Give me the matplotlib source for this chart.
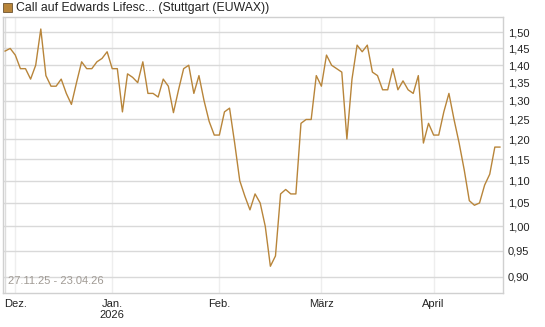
import matplotlib
matplotlib.use("Agg")
import matplotlib.pyplot as plt
from matplotlib.ticker import FixedLocator, NullLocator
from matplotlib.patches import Rectangle

plt.rcParams['font.family'] = ['Liberation Sans', 'DejaVu Sans']

title = "Call auf Edwards Lifesc... (Stuttgart (EUWAX))"
date_range = "27.11.25 - 23.04.26"

prices = [
    1.442, 1.45, 1.43, 1.39, 1.39, 1.36, 1.40, 1.51, 1.37, 1.34,
    1.34, 1.36, 1.32, 1.29, 1.35, 1.41, 1.39, 1.39, 1.41, 1.42,
    1.44, 1.39, 1.39, 1.27, 1.375, 1.365, 1.35, 1.41, 1.32, 1.32,
    1.31, 1.36, 1.34, 1.268, 1.33, 1.39, 1.40, 1.32, 1.37, 1.30,
    1.245, 1.21, 1.21, 1.27, 1.28, 1.19, 1.10, 1.065, 1.035, 1.07,
    1.05, 1.00, 0.92, 0.94, 1.07, 1.08, 1.07, 1.07, 1.24, 1.25,
    1.25, 1.37, 1.34, 1.43, 1.40, 1.39, 1.38, 1.20, 1.36, 1.46,
    1.44, 1.46, 1.38, 1.37, 1.33, 1.33, 1.39, 1.33, 1.355, 1.33,
    1.32, 1.37, 1.19, 1.24, 1.21, 1.21, 1.27, 1.32, 1.25, 1.19,
    1.125, 1.055, 1.045, 1.05, 1.09, 1.115, 1.18, 1.18,
]

month_idx = [2, 21, 42, 62, 84]
month_labels = ["Dez.", "Jan.\n2026", "Feb.", "März", "April"]

y_ticks = [0.90, 0.95, 1.00, 1.05, 1.10, 1.15, 1.20, 1.25, 1.30, 1.35, 1.40, 1.45, 1.50]
y_labels = [f"{v:.2f}".replace(".", ",") for v in y_ticks]

fig = plt.figure(figsize=(5.45, 3.27), dpi=100)
ax = fig.add_axes([3 / 545, 1 - 293 / 327, 500 / 545, (293 - 16.5) / 327])

x = list(range(len(prices)))
ax.plot(x, prices, color='#b8853a', lw=1.0, zorder=3)

ax.set_yscale('log')
ax.set_ylim(0.870, 1.550)
ax.set_xlim(-0.41, 97.6)

ax.yaxis.set_major_locator(FixedLocator(y_ticks))
ax.yaxis.set_minor_locator(NullLocator())
ax.set_yticklabels(y_labels)
ax.yaxis.tick_right()
ax.tick_params(axis='y', length=0, pad=3.5, labelsize=8, labelcolor='#222222')

ax.set_xticks(month_idx)
ax.set_xticklabels(month_labels)
ax.xaxis.set_minor_locator(NullLocator())
ax.tick_params(axis='x', length=0, pad=4, labelsize=8, labelcolor='#222222')

ax.grid(axis='y', color='#d9d9d9', lw=1.0, zorder=1)
ax.grid(axis='x', color='#eeeeee', lw=1.0, zorder=1)
ax.axvline(0, color='#dddddd', lw=1.0, zorder=1)

for s in ax.spines.values():
    s.set_color('#d0d0d0')
    s.set_linewidth(1.0)

ax.text(0.01, 0.025, date_range, transform=ax.transAxes, fontsize=8,
        color='#a09a94', ha='left', va='bottom')

fig.patches.append(Rectangle((3 / 545, 1 - 12 / 327), 9 / 545, 9 / 327,
                             transform=fig.transFigure, facecolor='#b8853a',
                             edgecolor='#6b5330', lw=0.6))
fig.text(16.5 / 545, 1 - 7.5 / 327, title, fontsize=8.8, color='#222222',
         ha='left', va='center')

fig.savefig("out.png", dpi=100)
